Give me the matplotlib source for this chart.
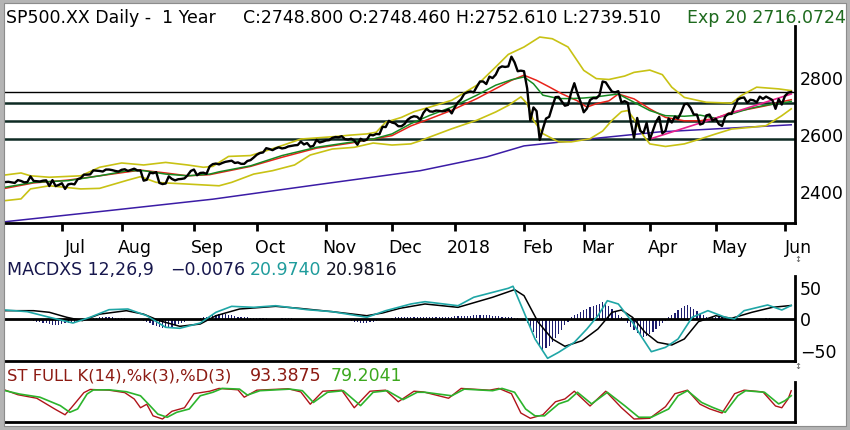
import matplotlib
matplotlib.use("Agg")
import matplotlib.pyplot as plt
from matplotlib.patches import Rectangle

W, H = 850, 431

# daily closes as the chart plots them, one list per month
close_jun17 = [2433, 2434, 2432, 2430, 2440, 2437, 2432, 2433, 2453, 2437, 2436, 2435,
               2438, 2439, 2419, 2440, 2419, 2423]
close_jul17 = [2429, 2409, 2425, 2427, 2425, 2443, 2447, 2459, 2459, 2460, 2474, 2473,
               2472, 2470, 2477, 2477, 2475, 2472, 2470]
close_aug17 = [2476, 2478, 2472, 2476, 2480, 2474, 2474, 2438, 2441, 2466, 2464, 2468,
               2430, 2426, 2428, 2453, 2444, 2439, 2443, 2444, 2446, 2457, 2472]
close_sep17 = [2477, 2457, 2465, 2466, 2462, 2488, 2496, 2498, 2495, 2500, 2504, 2506,
               2508, 2500, 2502, 2497, 2497, 2507, 2510, 2519]
close_oct17 = [2529, 2535, 2537, 2552, 2549, 2545, 2551, 2555, 2551, 2553, 2558, 2560,
               2562, 2563, 2575, 2565, 2570, 2557, 2560, 2581, 2572, 2575]
close_nov17 = [2579, 2580, 2588, 2591, 2590, 2594, 2584, 2582, 2585, 2579, 2564, 2585,
               2578, 2582, 2599, 2597, 2602, 2601, 2627, 2626, 2648]
close_dec17 = [2642, 2639, 2629, 2629, 2637, 2652, 2660, 2664, 2662, 2652, 2676, 2690,
               2681, 2680, 2684, 2683, 2681, 2683, 2688, 2674]
close_jan18 = [2696, 2713, 2724, 2743, 2748, 2751, 2748, 2768, 2786, 2786, 2777, 2803,
               2798, 2810, 2833, 2839, 2837, 2839, 2873, 2853, 2822, 2824]
close_feb18 = [2822, 2762, 2649, 2695, 2682, 2581, 2620, 2656, 2662, 2698, 2731, 2732,
               2716, 2701, 2704, 2747, 2780, 2744, 2714]
close_mar18 = [2678, 2691, 2721, 2728, 2727, 2738, 2786, 2783, 2766, 2750, 2748, 2752,
               2712, 2717, 2711, 2643, 2588, 2658, 2612, 2605, 2641]
close_apr18 = [2582, 2614, 2645, 2662, 2604, 2613, 2656, 2642, 2663, 2656, 2678, 2706,
               2708, 2693, 2670, 2670, 2635, 2639, 2667, 2670, 2648]
close_may18 = [2655, 2636, 2630, 2663, 2673, 2672, 2698, 2723, 2728, 2730, 2711, 2722,
               2720, 2713, 2733, 2725, 2733, 2727, 2721, 2690, 2724, 2705]
close_jun18 = [2735, 2747, 2749]

month_labels = ["Jul", "Aug", "Sep", "Oct", "Nov", "Dec", "2018", "Feb", "Mar", "Apr", "May", "Jun"]

# overlays (trading-day index, value)
ema20_day = [0, 9, 20, 30, 39, 44, 51, 58, 65, 68, 78, 88, 99, 110, 117, 123, 129, 135, 142, 150,
             156, 161, 165, 168, 171, 176, 180, 184, 188, 192, 195, 200, 205, 210, 216, 221,
             226, 231, 237, 242, 247, 250]
ema20_val = [2415, 2432, 2438, 2455, 2473, 2473, 2461, 2455, 2461, 2469, 2490, 2526, 2555, 2573,
             2584, 2602, 2638, 2667, 2696, 2738, 2773, 2792, 2802, 2778, 2738, 2726, 2726, 2728,
             2732, 2738, 2742, 2713, 2684, 2666, 2664, 2668, 2657, 2672, 2692, 2703, 2710, 2716]

ma_day = [0, 9, 20, 30, 43, 51, 58, 65, 78, 88, 99, 110, 117, 123, 129, 135, 142, 150, 156, 161,
          165, 169, 173, 177, 182, 185, 188, 192, 195, 200, 205, 210, 216, 221, 226, 231, 237,
          242, 247, 250]
ma_val = [2411, 2430, 2440, 2455, 2475, 2465, 2455, 2459, 2488, 2520, 2552, 2570, 2584, 2596,
          2630, 2655, 2685, 2726, 2761, 2790, 2808, 2790, 2767, 2743, 2718, 2696, 2708, 2718,
          2742, 2725, 2690, 2660, 2648, 2648, 2657, 2678, 2690, 2701, 2715, 2722]

bb_up_day = [0, 5, 8, 14, 24, 30, 37, 44, 51, 58, 63, 66, 71, 78, 83, 88, 94, 99, 104, 110, 115,
             118, 121, 126, 130, 135, 142, 150, 156, 160, 165, 170, 174, 179, 184, 188, 192, 197,
             200, 205, 209, 212, 216, 223, 231, 234, 239, 246, 250]
bb_up_val = [2458, 2465, 2455, 2450, 2455, 2485, 2500, 2493, 2502, 2493, 2485, 2488, 2523, 2526,
             2543, 2561, 2584, 2588, 2592, 2598, 2602, 2608, 2643, 2660, 2680, 2696, 2720, 2773,
             2837, 2881, 2907, 2942, 2936, 2907, 2825, 2796, 2793, 2805, 2818, 2826, 2810, 2766,
             2730, 2713, 2710, 2736, 2766, 2760, 2754]

bb_lo_day = [0, 5, 8, 14, 24, 30, 39, 43, 48, 51, 58, 63, 68, 72, 79, 85, 92, 97, 104, 111, 117,
             123, 129, 132, 135, 142, 150, 156, 160, 164, 166, 168, 171, 176, 180, 186, 190, 193,
             196, 198, 200, 203, 205, 210, 216, 221, 226, 231, 237, 242, 247, 250]
bb_lo_val = [2368, 2374, 2409, 2420, 2409, 2411, 2440, 2452, 2432, 2430, 2426, 2423, 2420, 2432,
             2461, 2473, 2493, 2528, 2549, 2555, 2570, 2563, 2567, 2578, 2591, 2620, 2650, 2679,
             2702, 2732, 2708, 2650, 2603, 2574, 2574, 2585, 2612, 2650, 2680, 2684, 2654, 2596,
             2567, 2558, 2567, 2584, 2602, 2619, 2625, 2631, 2666, 2690]

ma200_day = [0, 33, 66, 100, 132, 153, 165, 189, 208, 250]
ma200_val = [2294, 2333, 2373, 2425, 2473, 2521, 2560, 2588, 2609, 2634]

trend_day = [205, 250]
trend_val = [2584, 2742]

levels = [2749, 2710, 2647, 2584]

# MACD panel
macd_day = [0, 7, 14, 21.5, 27, 33, 39, 45, 51, 55.5, 62, 67, 72, 79, 86, 96, 104, 115, 121, 129,
            133.5, 144, 149, 160, 161.5, 165, 168.5, 172.5, 176, 181, 185, 188.5, 191.5, 195,
            199.5, 202.5, 205.5, 210, 214, 218.5, 223.5, 229, 232, 235, 242.5, 247, 250]
macd_val = [13.7, 11, 2, -7.3, 2, 14.2, 15.3, 4.5, -14.2, -15.8, -7.3, 10, 19.6, 18, 20.6, 14.2,
            11, 2, 12.6, 23.4, 27.1, 20.6, 34.2, 48.7, 52, 10, -33, -64.2, -54.5, -38.4, -16.9,
            4.5, 28.7, 23.4, -6.1, -30.3, -53.5, -46.5, -33, 2, 12.6, 2, -0.8, 12.6, 21.8, 13.7, 21]
signal_day = [0, 9, 14, 19.5, 24.5, 30, 38.5, 44, 49, 55.5, 62, 67, 74.5, 86, 93.5, 104, 115, 120,
              125.5, 133.5, 144, 155, 162, 165, 169.5, 174, 178, 183.5, 188.5, 193, 196, 199.5,
              203.5, 207.5, 212, 216, 220.5, 226, 231, 237.5, 244, 250]
signal_val = [12.6, 12.6, 10, 2, -3.5, 7, 12.6, 7, -3.5, -12.6, -8.9, 4.5, 15.3, 19.6, 16.4, 11,
              4.5, 8.9, 16.4, 23.4, 18, 34.2, 46.5, 36.8, -6.1, -33, -44.8, -35.8, -16.9, 10,
              13.7, 2, -22.2, -38.4, -42.7, -33, -5.1, 4.5, 0.3, 10, 18, 21]
hist_val = ([-2, -2, -3, -3, -2, -2, -3, -3, -3, -4]
            + [-5, -6, -7, -8, -9, -10, -10, -10, -9, -8, -7, -6]
            + [-5, -4, -3, -2, -1, 0, 1, 1]
            + [2, 2, 2, 2, 2, 1, 1, 1, 1, 0, 0, -1, -1, -2]
            + [-4, -6, -8, -10, -12, -14, -15, -15, -14, -13, -11, -9]
            + [-7, -5, -3, -2, -1, 0]
            + [1, 2, 3, 4, 5, 6, 7, 7, 7, 6, 5, 4, 3, 2]
            + [2, 2, 1, 1, 1, 1, 1, 1, 0, 0, 0, 0, 1, 1, 1, 1, 0, 0, -1, -1, -1, -1, 0, 0, 0,
               -1, -1, -1, -1, -1, -2, -2, -2, -3]
            + [-4, -5, -6, -7, -7, -7, -6, -5, -4, -3, -2, -1]
            + [0, 1, 2, 3, 3, 3, 3, 3, 2, 2, 2, 2, 3, 3, 3, 3, 3, 3, 3, 3, 3, 4, 4, 4, 4, 4, 4,
               5, 5, 5, 5, 5, 5, 4, 4, 4, 3, 3, 2, 2, 1, 1, 0]
            + [-3, -8, -14, -22, -32, -42, -50, -48, -44, -38, -32, -25, -18, -11, -5]
            + [2, 5, 8, 11, 14, 16, 18, 20, 22, 24, 26, 24, 20, 15, 10, 6, 2]
            + [-3, -8, -13, -18, -23, -28, -30, -28, -25, -21, -17, -12, -8, -4]
            + [2, 5, 9, 13, 17, 20, 21, 19, 16, 12, 8, 5, 2]
            + [1, 2, 2, 3, 3, 2, 1, 1, 0, -1, -2, -2, -3, -2, -2, -1, -1, 0, 1, 1, 0, -1, -1,
               -1, 0, 0, 0])

# stochastic panel
stoch_k_day = [0, 4, 10, 16, 19, 21, 25, 27, 33, 38, 41, 43, 45, 47, 50, 53, 57, 60, 65, 68, 74,
               76, 80, 90, 94, 97, 101, 107, 111, 116, 121, 125, 130, 133, 141, 145, 154, 157,
               161, 164, 167, 171, 175, 178, 181, 186, 191, 196, 200, 205, 210, 213, 217, 221,
               224, 228, 232, 235, 241, 245, 247, 249, 250]
stoch_k_val = [95, 82, 72, 40, 25, 45, 88, 97, 95, 88, 70, 45, 55, 22, 13, 35, 45, 85, 92, 100,
               96, 75, 95, 99, 90, 55, 92, 95, 45, 92, 95, 62, 92, 90, 72, 100, 95, 100, 85, 30,
               15, 25, 62, 70, 92, 50, 92, 45, 13, 15, 48, 85, 95, 55, 42, 30, 85, 95, 90, 50,
               45, 70, 93.4]
stoch_d_day = [0, 4.5, 11, 17.5, 20.5, 23, 26, 28, 33, 38.5, 43, 46, 48.5, 51.5, 54.5, 58.5, 62,
               66, 69, 74.5, 77, 81, 90.5, 94.5, 98, 102.5, 107.5, 113, 117, 121.5, 126.5, 131,
               133.5, 142, 146, 155, 158, 162, 165.5, 168.5, 171.5, 176, 179, 182, 186.5, 191.5,
               197, 201.5, 205.5, 211, 214, 217, 221.5, 225, 229, 233, 235.5, 241.5, 246, 248, 250]
stoch_d_val = [93.5, 84, 75, 51, 32, 41.5, 84, 95.5, 96, 90.6, 79, 51, 27, 18, 32, 41.5, 79, 89,
               100, 98, 81, 93.5, 98, 93.5, 60, 89, 93.5, 51, 89, 93.5, 68, 89, 89, 79, 98, 93.5,
               100, 89, 41.5, 22, 22, 56, 65, 89, 56, 89, 51, 18, 18, 41.5, 79, 93.5, 60, 46, 32,
               79, 93.5, 89, 56, 65, 79.2]

month_lists = [close_jul17, close_aug17, close_sep17, close_oct17, close_nov17, close_dec17,
               close_jan18, close_feb18, close_mar18, close_apr18, close_may18, close_jun18]
closes = close_jun17 + sum(month_lists, [])
days = list(range(len(closes)))
tick_pos = []
start = len(close_jun17)
for m in month_lists:
    tick_pos.append(start)
    start += len(m)

FS = 12.5
XLIM = (-0.1, 251.2)

fig = plt.figure(figsize=(W / 100, H / 100), dpi=100)
fig.patch.set_facecolor("white")


def px_axes(x0, y0, x1, y1):
    return fig.add_axes([x0 / W, 1 - y1 / H, (x1 - x0) / W, (y1 - y0) / H])


def ftext(x, y, s, color="black", size=FS, **kw):
    fig.text(x / W, 1 - y / H, s, color=color, fontsize=size, va="baseline", **kw)


def style(ax):
    ax.set_xlim(*XLIM)
    ax.set_facecolor("none")
    for side in ("top", "left"):
        ax.spines[side].set_visible(False)
    for side in ("bottom", "right"):
        ax.spines[side].set_linewidth(2)
    ax.yaxis.tick_right()
    ax.tick_params(axis="y", length=0, pad=3.6, labelsize=FS)


# ---------------- main price panel ----------------
ax = px_axes(5, 27, 795, 224)
style(ax)
ax.set_ylim(2289.4, 2980.7)
ax.set_yticks([2400, 2600, 2800])
ax.set_xticks(tick_pos)
ax.tick_params(axis="x", length=6, width=2, labelbottom=False)
for lv, lw, col in zip(levels, [1.0, 1.8, 1.8, 1.8], ["black", "#0e2b24", "#0e2b24", "#0e2b24"]):
    ax.axhline(lv, color=col, lw=lw, zorder=1)
ax.plot(ma200_day, ma200_val, color="#3b1ca6", lw=1.1, zorder=2)
ax.plot(bb_up_day, bb_up_val, color="#c8c214", lw=1.2, zorder=2)
ax.plot(bb_lo_day, bb_lo_val, color="#c8c214", lw=1.2, zorder=2)
ax.plot(ma_day, ma_val, color="#e8231a", lw=1.1, zorder=3)
ax.plot(ema20_day, ema20_val, color="#178a22", lw=1.1, zorder=3)
ax.plot(trend_day, trend_val, color="#e8208c", lw=1.2, zorder=3)
ax.plot(days, closes, color="black", lw=1.7, zorder=4)
for pos, lab in zip(tick_pos, month_labels):
    ax.text(pos + 4.3, -0.147, lab, transform=ax.get_xaxis_transform(), fontsize=FS,
            ha="center", va="baseline", clip_on=False)

ftext(6, 22.7, "SP500.XX Daily -  1 Year")
ftext(243, 22.7, "C:2748.800 O:2748.460 H:2752.610 L:2739.510")
ftext(687, 22.7, "Exp 20 2716.0724", color="#1e6a1e")

# ---------------- MACD panel ----------------
ax2 = px_axes(5, 277, 795, 362)
style(ax2)
ax2.set_ylim(-68.5, 68.5)
ax2.set_xticks([])
ax2.set_yticks([-50, 0, 50])
ax2.set_yticklabels(["\u221250", "0", "50"])
ax2.bar(days, hist_val, width=0.38, color="#1d1d6e", zorder=2)
ax2.axhline(0, color="black", lw=2, zorder=3)
ax2.plot(signal_day, signal_val, color="black", lw=1.1, zorder=4)
ax2.plot(macd_day, macd_val, color="#1fa6a6", lw=1.2, zorder=4)

ftext(7, 275, "MACDXS 12,26,9", color="#17174d")
ftext(170, 275, "\u22120.0076", color="#17174d")
ftext(250, 275, "20.9740", color="#1f9c9c")
ftext(326, 275, "20.9816", color="#111122")

# ---------------- stochastic panel ----------------
ax3 = px_axes(5, 383, 795, 423)
style(ax3)
ax3.set_ylim(4.5, 118.2)
ax3.set_xticks([])
ax3.set_yticks([])
ax3.plot(stoch_k_day, stoch_k_val, color="#b0141a", lw=1.0, zorder=3)
ax3.plot(stoch_d_day, stoch_d_val, color="#2cb42c", lw=1.2, zorder=4)

ftext(7, 381, "ST FULL K(14),%k(3),%D(3)", color="#8c1a12", size=11.8)
ftext(250, 381, "93.3875", color="#8c1a12")
ftext(331, 381, "79.2041", color="#3ca81e")

# small panel handles
for yy in (260, 367):
    fig.text(798 / W, 1 - yy / H, "\u2195", fontsize=6, color="#555555", ha="center", va="center")

# window frame
fig.patches.append(Rectangle((0, 0), 1, 1, transform=fig.transFigure, fill=False,
                             edgecolor="#b4b4b4", lw=6.5))
fig.patches.append(Rectangle((4.3 / W, 3.6 / H), 1 - 8.6 / W, 1 - 8 / H,
                             transform=fig.transFigure, fill=False, edgecolor="#8c8c8c", lw=0.8))

fig.savefig("out.png", dpi=100)
